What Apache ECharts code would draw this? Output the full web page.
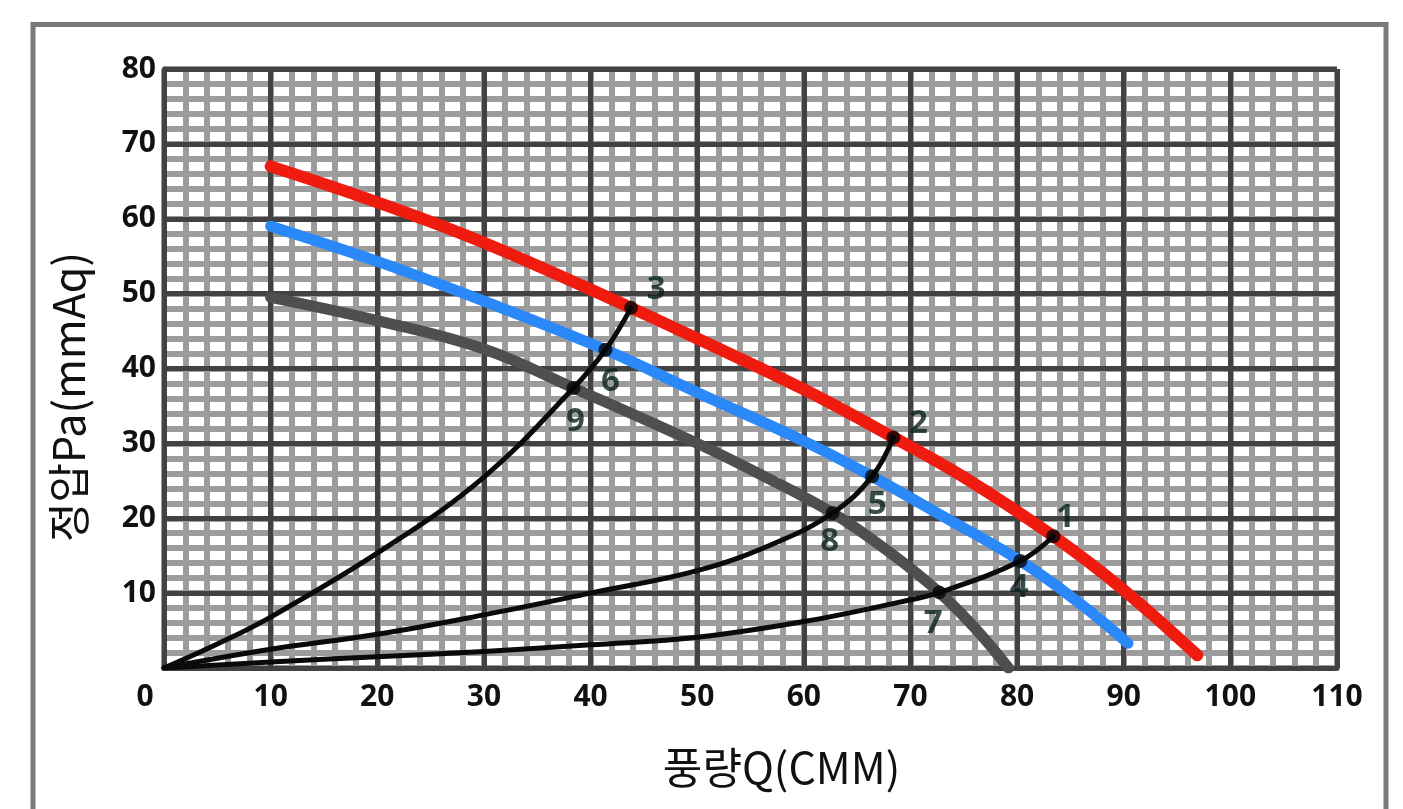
<!DOCTYPE html>
<html>
<head>
<meta charset="utf-8">
<script src="https://cdn.jsdelivr.net/npm/echarts@6/dist/echarts.min.js"></script>
<style>
html,body{margin:0;padding:0;background:#fff;}
#chart{width:1403px;height:809px;}
</style>
</head>
<body>
<div id="chart"></div>
<script>
// ---- data ----
const xTicks = [0,10,20,30,40,50,60,70,80,90,100,110];
const yTicks = [10,20,30,40,50,60,70,80];

// fan curves (Q in CMM, P in mmAq)
const highQ = [10,20,30,43.8,50,60,68.4,75,83.4,90,96.9];
const highP = [67,62.2,56.8,48.1,44,37.2,30.8,25.5,17.6,10.4,1.7];
const midQ  = [10,20,30,41.4,50,60,66.4,73,80.3,86,90.4];
const midP  = [59,54.3,49,42.5,36.8,30.3,25.6,20.3,14.3,8.5,3.3];
const lowQ  = [10,20,30,38.4,50,56,62.7,68,72.7,76,79.2];
const lowP  = [49.5,46.4,42.6,37.4,30,25.8,20.7,15.5,10.1,5.4,0];

// system resistance curves
const sysAQ = [0,5,10,20.5,30,38.4,41.4,43.8];
const sysAP = [0,3.2,6.8,15.8,25.5,37.4,42.5,48.1];
const sysBQ = [0,10,20,30,40,50,57,62.7,66.4,68.4];
const sysBP = [0,2.5,4.5,7.1,10,13,16.5,20.7,25.6,30.8];
const sysCQ = [0,10,20,30,40,50,60,69,72.7,80.3,83.4];
const sysCP = [0,0.8,1.5,2.2,3.1,4.1,6.2,8.8,10.1,14.3,17.6];

// operating points
const pointNames = ['1','2','3','4','5','6','7','8','9'];
const pointQ = [83.4,68.4,43.8,80.3,66.4,41.4,72.7,62.7,38.4];
const pointP = [17.6,30.8,48.1,14.3,25.6,42.5,10.1,20.7,37.4];

const xTitle = '풍량Q(CMM)';
const yTitle = '정압Pa(mmAq)';

// ---- layout / style (not data) ----
const labelOffsets = [[12,-19],[25,-14],[25,-18],[-1,27],[5,28],[5,32],[-6,31],[-3,29],[2,34]];
const zip = (a,b) => a.map((v,i)=>[v,b[i]]);

const chart = echarts.init(document.getElementById('chart'), null, {renderer:'canvas'});
const tickFont = {fontFamily:'"Noto Sans", "Noto Sans CJK KR", sans-serif', fontWeight:'bold', fontSize:30, color:'#111'};
const titleFont = '"Noto Sans CJK KR", sans-serif';
const majorLine = {color:'#424242', width:5};
const minorLine = {color:'#9c9c9c', width:6};

function curve(name, q, p, color, width, z){
  return {type:'line', name, data: zip(q,p), xAxisIndex:0, yAxisIndex:0, smooth:0.4,
    symbol:'none', z, lineStyle:{color, width, cap:'round', join:'round'}, silent:true, animation:false};
}

const option = {
  backgroundColor:'#fff',
  animation:false,
  graphic:[
    {type:'rect', shape:{x:33, y:24.5, width:1353, height:820}, style:{fill:'none', stroke:'#7a7a7a', lineWidth:5}, z:-10},
    {type:'text', x:69, y:397, rotation:Math.PI/2, z:10,
     style:{text:yTitle, fontFamily:titleFont, fontSize:43, fill:'#111', align:'center', verticalAlign:'middle'}}
  ],
  grid:{left:164, top:69, right:66, bottom:141, containLabel:false},
  xAxis:[
    {type:'value', min:0, max:110, interval:10, position:'bottom', z:1,
     axisLine:{show:true, onZero:false, lineStyle:majorLine}, axisTick:{show:false},
     splitLine:{show:true, lineStyle:majorLine},
     axisLabel:Object.assign({margin:14, formatter:(v)=> v===0 ? '{z|0}' : String(v),
       rich:{z:Object.assign({padding:[0,38,0,0]}, tickFont)}}, tickFont),
     name:xTitle, nameLocation:'middle', nameGap:78,
     nameTextStyle:{fontFamily:titleFont, fontSize:43, color:'#111', padding:[0,0,0,62]}},
    {type:'value', min:0, max:110, interval:2, position:'bottom', z:0,
     axisLine:{show:false}, axisTick:{show:false}, axisLabel:{show:false},
     splitLine:{show:true, lineStyle:minorLine}}
  ],
  yAxis:[
    {type:'value', min:0, max:80, interval:10, position:'left', z:1,
     axisLine:{show:true, onZero:false, lineStyle:majorLine}, axisTick:{show:false},
     splitLine:{show:true, lineStyle:majorLine},
     axisLabel:Object.assign({margin:8, formatter:(v)=> v===0 ? '' : String(v)}, tickFont)},
    {type:'value', min:0, max:80, interval:2, position:'left', z:0,
     axisLine:{show:false}, axisTick:{show:false}, axisLabel:{show:false},
     splitLine:{show:true, lineStyle:minorLine}}
  ],
  series:[
    curve('low', lowQ, lowP, '#4f4f4f', 11, 3),
    curve('mid', midQ, midP, '#2b88f8', 11, 3),
    curve('high', highQ, highP, '#f01b0f', 12, 3),
    curve('sysA', sysAQ, sysAP, '#0a0a0a', 5, 4),
    curve('sysB', sysBQ, sysBP, '#0a0a0a', 5, 4),
    curve('sysC', sysCQ, sysCP, '#0a0a0a', 5, 4),
    {type:'scatter', name:'points', z:5, symbol:'circle', symbolSize:14, itemStyle:{color:'#050505'},
     silent:true, animation:false,
     data: pointQ.map((q,i)=>({value:[q, pointP[i]], name:pointNames[i],
        label:{offset:labelOffsets[i]}})),
     label:{show:true, position:'inside', formatter:(p)=>p.name, color:'#08201e', textBorderWidth:0,
        fontFamily:'"Noto Sans", sans-serif', fontWeight:'bold', fontSize:33}}
  ]
};
chart.setOption(option);
</script>
</body>
</html>
